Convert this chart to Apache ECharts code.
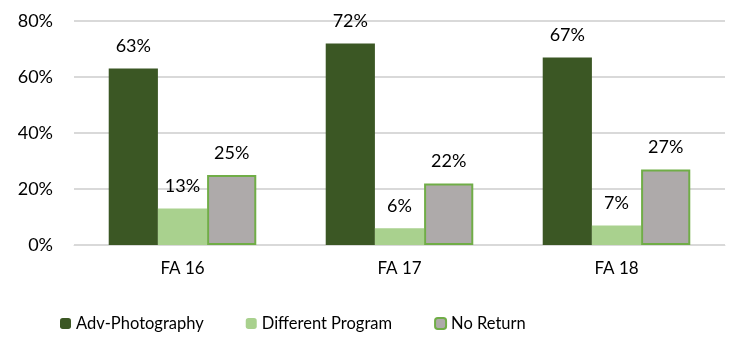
<!DOCTYPE html>
<html><head><meta charset="utf-8">
<script src="https://cdn.jsdelivr.net/npm/echarts@6/dist/echarts.min.js"></script>
<style>html,body{margin:0;padding:0;background:#fff}#c{width:737px;height:339px}</style>
</head><body><div id="c"></div>
<script>
const categories = ['FA 16', 'FA 17', 'FA 18'];
const advPhotography = [63, 72, 67];
const differentProgram = [13, 6, 7];
const noReturn = [25, 22, 27];
const yTicks = [0, 20, 40, 60, 80];

const font = 'Lato';
const chart = echarts.init(document.getElementById('c'));
const lbl = {show: true, position: 'top', distance: 13, formatter: '{c}%', color: '#000', fontSize: 18, fontFamily: font};
chart.setOption({
  animation: false,
  grid: {left: 74, right: 12, top: 21, bottom: 94},
  legend: {
    bottom: 2, left: 55, itemGap: 42, itemWidth: 11, itemHeight: 11,
    textStyle: {fontSize: 16.5, fontFamily: font, color: '#000'},
    data: ['Adv-Photography', 'Different Program', 'No Return']
  },
  xAxis: {
    type: 'category', data: categories,
    axisLine: {lineStyle: {color: '#d9d9d9', width: 1}},
    axisTick: {show: false},
    axisLabel: {fontSize: 17, fontFamily: font, color: '#000', margin: 15}
  },
  yAxis: {
    type: 'value', min: yTicks[0], max: yTicks[yTicks.length - 1], interval: 20,
    axisLabel: {formatter: '{value}%', fontSize: 18, fontFamily: font, color: '#000', margin: 21},
    splitLine: {lineStyle: {color: '#d9d9d9', width: 2}},
    axisLine: {show: false}, axisTick: {show: false}
  },
  series: [
    {name: 'Adv-Photography', type: 'bar', data: advPhotography, barGap: '0%', barCategoryGap: '32%',
     itemStyle: {color: '#3b5724'}, label: lbl},
    {name: 'Different Program', type: 'bar', data: differentProgram,
     itemStyle: {color: '#a9d18e'}, label: lbl},
    {name: 'No Return', type: 'bar', data: noReturn,
     itemStyle: {color: '#aeaaaa', borderColor: '#70ad47', borderWidth: 2}, label: lbl}
  ]
});
</script></body></html>
